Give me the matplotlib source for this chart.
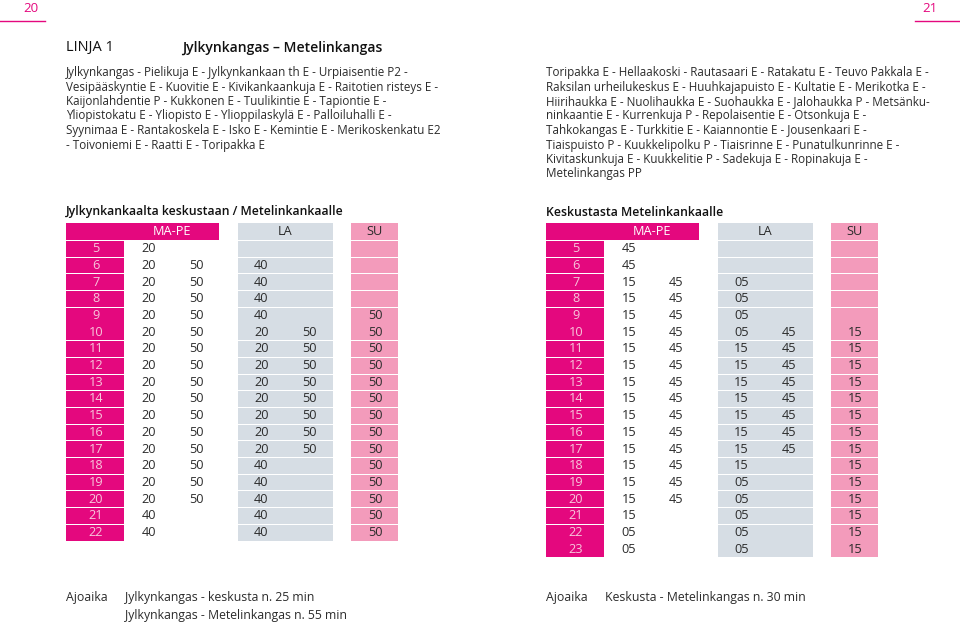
import matplotlib
matplotlib.use("Agg")
import matplotlib.pyplot as plt
from matplotlib.patches import Rectangle

# ---------------- data ----------------
page_left = "20"
page_right = "21"
line_label = "LINJA 1"
line_title = "Jylkynkangas – Metelinkangas"

route_left = [
    "Jylkynkangas - Pielikuja E - Jylkynkankaan th E - Urpiaisentie P2 -",
    "Vesipääskyntie E - Kuovitie E - Kivikankaankuja E - Raitotien risteys E -",
    "Kaijonlahdentie P - Kukkonen E - Tuulikintie E - Tapiontie E -",
    "Yliopistokatu E - Yliopisto E - Ylioppilaskylä E - Palloiluhalli E -",
    "Syynimaa E - Rantakoskela E - Isko E - Kemintie E - Merikoskenkatu E2",
    "- Toivoniemi E - Raatti E - Toripakka E",
]
route_right = [
    "Toripakka E - Hellaakoski - Rautasaari E - Ratakatu E - Teuvo Pakkala E -",
    "Raksilan urheilukeskus E - Huuhkajapuisto E - Kultatie E - Merikotka E -",
    "Hiirihaukka E - Nuolihaukka E - Suohaukka E - Jalohaukka P - Metsänku-",
    "ninkaantie E - Kurrenkuja P - Repolaisentie E - Otsonkuja E -",
    "Tahkokangas E - Turkkitie E - Kaiannontie E - Jousenkaari E -",
    "Tiaispuisto P - Kuukkelipolku P - Tiaisrinne E - Punatulkunrinne E -",
    "Kivitaskunkuja E - Kuukkelitie P - Sadekuja E - Ropinakuja E -",
    "Metelinkangas PP",
]

day_headers = ["MA-PE", "LA", "SU"]

title_left = "Jylkynkankaalta keskustaan / Metelinkankaalle"
hours_left = [5, 6, 7, 8, 9, 10, 11, 12, 13, 14, 15, 16, 17, 18, 19, 20, 21, 22]
mape_left = [["20"], ["20", "50"], ["20", "50"], ["20", "50"], ["20", "50"],
             ["20", "50"], ["20", "50"], ["20", "50"], ["20", "50"], ["20", "50"],
             ["20", "50"], ["20", "50"], ["20", "50"], ["20", "50"], ["20", "50"],
             ["20", "50"], ["40"], ["40"]]
la_left = [[], ["40"], ["40"], ["40"], ["40"],
           ["20", "50"], ["20", "50"], ["20", "50"], ["20", "50"], ["20", "50"],
           ["20", "50"], ["20", "50"], ["20", "50"], ["40"], ["40"],
           ["40"], ["40"], ["40"]]
su_left = [[], [], [], [], ["50"], ["50"], ["50"], ["50"], ["50"], ["50"],
           ["50"], ["50"], ["50"], ["50"], ["50"], ["50"], ["50"], ["50"]]

title_right = "Keskustasta Metelinkankaalle"
hours_right = [5, 6, 7, 8, 9, 10, 11, 12, 13, 14, 15, 16, 17, 18, 19, 20, 21, 22, 23]
mape_right = [["45"], ["45"], ["15", "45"], ["15", "45"], ["15", "45"],
              ["15", "45"], ["15", "45"], ["15", "45"], ["15", "45"], ["15", "45"],
              ["15", "45"], ["15", "45"], ["15", "45"], ["15", "45"], ["15", "45"],
              ["15", "45"], ["15"], ["05"], ["05"]]
la_right = [[], [], ["05"], ["05"], ["05"],
            ["05", "45"], ["15", "45"], ["15", "45"], ["15", "45"], ["15", "45"],
            ["15", "45"], ["15", "45"], ["15", "45"], ["15"], ["05"],
            ["05"], ["05"], ["05"], ["05"]]
su_right = [[], [], [], [], [], ["15"], ["15"], ["15"], ["15"], ["15"],
            ["15"], ["15"], ["15"], ["15"], ["15"], ["15"], ["15"], ["15"], ["15"]]

travel_label = "Ajoaika"
travel_left = ["Jylkynkangas - keskusta n. 25 min",
               "Jylkynkangas - Metelinkangas n. 55 min"]
travel_right = ["Keskusta - Metelinkangas n. 30 min"]

# ---------------- style ----------------
MAGENTA = "#E4087E"
HOUR_TXT = "#F7C6DB"
GRAY = "#D6DDE4"
PINK = "#F39BBB"
TXT = "#2B2B2B"
FONT = ["Open Sans", "DejaVu Sans"]

plt.rcParams["font.family"] = FONT

fig = plt.figure(figsize=(9.6, 6.23), dpi=100)
ax = fig.add_axes([0, 0, 1, 1])
ax.set_xlim(0, 960)
ax.set_ylim(623, 0)
ax.axis("off")

BODY = 8.35
NUM = 9.2
TRAVEL = 8.85

# page numbers
ax.text(31, 8, page_left, color=MAGENTA, fontsize=9.5, ha="center", va="center")
ax.plot([0, 45], [20.5, 20.5], color=MAGENTA, lw=1.0)
ax.text(930, 8, page_right, color=MAGENTA, fontsize=9.5, ha="center", va="center")
ax.plot([915, 960], [20.5, 20.5], color=MAGENTA, lw=1.0)

# titles
ax.text(66, 48, line_label, color="#111", fontsize=10.5, ha="left", va="center")
ax.text(182, 48, line_title, color="#111", fontsize=10.1, ha="left", va="center",
        fontweight="semibold")

for i, s in enumerate(route_left):
    ax.text(66, 72.5 + i * 14.5, s, color=TXT, fontsize=BODY, ha="left", va="center")
for i, s in enumerate(route_right):
    ax.text(546, 72.5 + i * 14.5, s, color=TXT, fontsize=BODY, ha="left", va="center")


def draw_table(x0, title, hours, mape, la, su):
    ax.text(x0, 212, title, color="#111", fontsize=8.8, ha="left", va="center",
            fontweight="semibold")
    top = 222.5
    hh = 17.5
    rh = 16.7
    n = len(hours)
    # header
    ax.add_patch(Rectangle((x0, top), 153, hh, color=MAGENTA, lw=0))
    ax.add_patch(Rectangle((x0 + 172, top), 95, hh, color=GRAY, lw=0))
    ax.add_patch(Rectangle((x0 + 285, top), 47, hh, color=PINK, lw=0))
    ax.text(x0 + 106, top + hh / 2, day_headers[0], color="white", fontsize=NUM,
            ha="center", va="center")
    ax.text(x0 + 219.5, top + hh / 2, day_headers[1], color=TXT, fontsize=NUM,
            ha="center", va="center")
    ax.text(x0 + 308.5, top + hh / 2, day_headers[2], color=TXT, fontsize=NUM,
            ha="center", va="center")
    y = top + hh
    for i in range(n):
        y0 = y + i * rh
        yc = y0 + rh / 2 + 0.3
        ax.add_patch(Rectangle((x0, y0 + 0.9), 58, rh - 0.9, color=MAGENTA, lw=0))
        ax.add_patch(Rectangle((x0 + 172, y0 + 0.9), 95, rh - 0.9, color=GRAY, lw=0))
        ax.add_patch(Rectangle((x0 + 285, y0 + 0.9), 47, rh - 0.9, color=PINK, lw=0))
        ax.text(x0 + 30, yc, str(hours[i]), color=HOUR_TXT, fontsize=NUM,
                ha="center", va="center")
        for j, m in enumerate(mape[i]):
            ax.text(x0 + 75.5 + j * 47.5, yc, m, color=TXT, fontsize=NUM,
                    ha="left", va="center")
        for j, m in enumerate(la[i]):
            ax.text(x0 + 188 + j * 48, yc, m, color=TXT, fontsize=NUM,
                    ha="left", va="center")
        for m in su[i]:
            ax.text(x0 + 309, yc, m, color=TXT, fontsize=NUM,
                    ha="center", va="center")


draw_table(66, title_left, hours_left, mape_left, la_left, su_left)
draw_table(546, title_right, hours_right, mape_right, la_right, su_right)

# travel times
ax.text(66, 598, travel_label, color=TXT, fontsize=TRAVEL, ha="left", va="center")
for i, s in enumerate(travel_left):
    ax.text(125, 598 + i * 17, s, color=TXT, fontsize=TRAVEL, ha="left", va="center")
ax.text(546, 598, travel_label, color=TXT, fontsize=TRAVEL, ha="left", va="center")
for i, s in enumerate(travel_right):
    ax.text(605, 598 + i * 17, s, color=TXT, fontsize=TRAVEL, ha="left", va="center")

fig.savefig("out.png", dpi=100, facecolor="white")
